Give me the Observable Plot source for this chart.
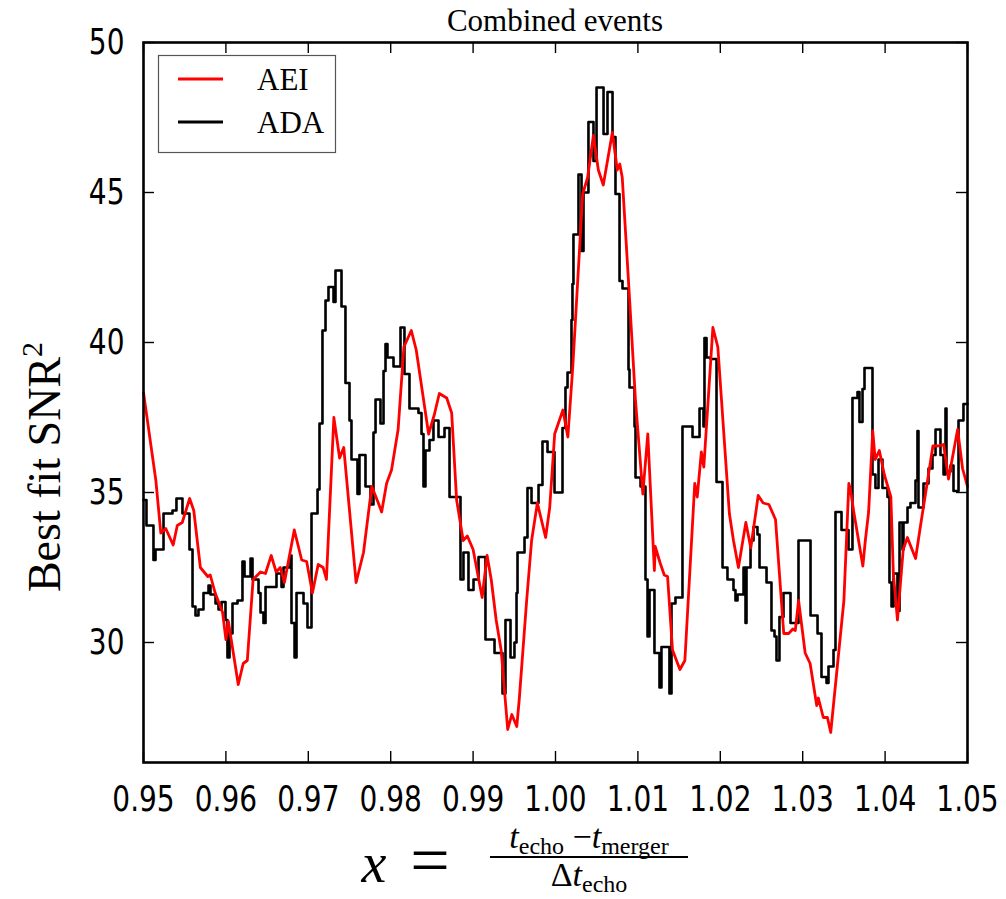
<!DOCTYPE html>
<html><head><meta charset="utf-8">
<script src="https://cdn.jsdelivr.net/npm/d3@7"></script>
<script src="https://cdn.jsdelivr.net/npm/@observablehq/plot@0.6"></script>
<style>body{margin:0;background:#fff} svg{display:block}</style>
</head><body><div id="chart"></div>
<script>
const seriesNames = ["AEI", "ADA"];
const seriesColors = ["#ff0000", "#000000"];
const xTicks = [0.95,0.96,0.97,0.98,0.99,1.00,1.01,1.02,1.03,1.04,1.05];
const yTicks = [30,35,40,45,50];

const aeiX = [0.9500,0.9515,0.9521,0.9527,0.9536,0.9541,0.9547,0.9556,0.9561,0.9569,
0.9578,0.9581,0.9587,0.9596,0.9600,0.9603,0.9609,0.9615,0.9621,0.9626,
0.9633,0.9642,0.9648,0.9655,0.9661,0.9666,0.9671,0.9683,0.9692,0.9698,
0.9705,0.9712,0.9718,0.9722,0.9731,0.9738,0.9743,0.9758,0.9767,0.9777,
0.9785,0.9789,0.9795,0.9801,0.9809,0.9816,0.9825,0.9831,0.9846,0.9853,
0.9859,0.9868,0.9874,0.9880,0.9888,0.9893,0.9900,0.9911,0.9917,0.9922,
0.9928,0.9934,0.9942,0.9947,0.9953,0.9956,0.9965,0.9971,0.9978,0.9988,
0.9993,0.9999,1.0009,1.0015,1.0021,1.0033,1.0039,1.0046,1.0052,1.0058,
1.0069,1.0075,1.0078,1.0081,1.0090,1.0097,1.0106,1.0112,1.0120,1.0121,
1.0127,1.0132,1.0136,1.0142,1.0151,1.0157,1.0169,1.0172,1.0177,1.0180,
1.0191,1.0197,1.0211,1.0216,1.0222,1.0231,1.0237,1.0246,1.0252,1.0259,
1.0267,1.0277,1.0283,1.0288,1.0291,1.0295,1.0303,1.0309,1.0317,1.0319,
1.0325,1.0330,1.0334,1.0350,1.0356,1.0358,1.0362,1.0373,1.0376,1.0380,
1.0385,1.0388,1.0393,1.0399,1.0407,1.0410,1.0415,1.0422,1.0427,1.0437,
1.0443,1.0451,1.0458,1.0464,1.0471,1.0477,1.0488,1.0494,1.0500];
const aeiY = [38.33,35.4,33.65,33.8,33.25,33.9,34.0,34.8,34.4,32.5,
32.2,32.25,31.65,31.0,30.1,30.7,29.65,28.6,29.3,29.4,
32.1,32.35,32.3,32.9,32.35,32.5,32.0,33.75,32.75,32.7,
31.65,32.6,32.5,32.1,37.5,36.15,36.5,32.0,33.0,35.2,
34.65,34.35,35.3,35.75,37.1,39.85,40.4,39.75,36.95,37.6,
38.3,38.15,37.65,34.75,33.4,33.55,33.1,31.5,32.9,32.1,
30.75,29.75,27.1,27.6,27.2,28.1,31.4,33.4,34.65,33.5,
34.5,36.95,37.75,36.85,39.2,44.95,45.5,46.9,45.75,45.25,
47.0,45.75,45.95,45.5,41.4,38.1,34.95,36.95,32.4,33.2,
32.65,32.25,32.2,29.75,29.1,29.4,35.3,34.85,36.35,35.85,
40.5,39.85,34.3,33.4,32.5,34.0,33.15,34.9,34.65,34.6,
34.1,30.3,30.3,30.45,30.4,31.4,29.65,29.3,27.9,28.15,
27.5,27.5,27.0,31.4,35.3,35.1,34.35,32.55,33.4,34.35,
37.05,36.1,36.4,35.6,34.85,32.3,30.75,33.1,33.5,32.8,
33.9,35.3,36.55,36.55,36.6,35.45,37.1,35.8,35.2];

const adaX = [0.95000,0.95036,0.95121,0.95146,0.95243,0.95352,0.95400,0.95473,0.95558,0.95595,
0.95631,0.95667,0.95728,0.95789,0.95813,0.95874,0.95910,0.95947,0.95995,0.96019,
0.96044,0.96080,0.96141,0.96201,0.96226,0.96299,0.96323,0.96396,0.96420,0.96456,
0.96481,0.96614,0.96675,0.96699,0.96784,0.96796,0.96833,0.96857,0.96942,0.96990,
0.97039,0.97112,0.97136,0.97172,0.97209,0.97245,0.97306,0.97330,0.97403,0.97451,
0.97500,0.97524,0.97597,0.97621,0.97694,0.97755,0.97791,0.97816,0.97876,0.97913,
0.97937,0.97961,0.98034,0.98119,0.98167,0.98228,0.98337,0.98374,0.98398,0.98422,
0.98471,0.98519,0.98580,0.98653,0.98714,0.98847,0.98883,0.98944,0.99005,0.99066,
0.99150,0.99260,0.99357,0.99393,0.99454,0.99502,0.99527,0.99539,0.99624,0.99660,
0.99709,0.99794,0.99842,0.99903,0.99988,1.00085,1.00121,1.00146,1.00194,1.00206,
1.00218,1.00279,1.00316,1.00340,1.00400,1.00461,1.00498,1.00583,1.00631,1.00692,
1.00728,1.00777,1.00813,1.00886,1.00898,1.00959,1.00971,1.01032,1.01092,1.01117,
1.01141,1.01201,1.01262,1.01286,1.01383,1.01408,1.01456,1.01541,1.01663,1.01748,
1.01796,1.01808,1.01833,1.01881,1.01954,1.02027,1.02087,1.02160,1.02184,1.02209,
1.02282,1.02306,1.02318,1.02367,1.02403,1.02451,1.02476,1.02561,1.02621,1.02658,
1.02682,1.02718,1.02767,1.02852,1.02949,1.03095,1.03180,1.03228,1.03289,1.03313,
1.03374,1.03398,1.03471,1.03556,1.03604,1.03665,1.03689,1.03726,1.03750,1.03847,
1.03883,1.03920,1.03968,1.04029,1.04053,1.04078,1.04102,1.04150,1.04175,1.04211,
1.04223,1.04272,1.04308,1.04369,1.04393,1.04405,1.04466,1.04527,1.04575,1.04612,
1.04672,1.04709,1.04733,1.04745,1.04794,1.04830,1.04891,1.04951,1.05000];
const adaY = [34.75,33.9,32.75,33.1,34.3,34.4,34.8,34.3,33.1,31.2,
30.9,31.1,31.65,31.9,31.6,31.3,31.1,31.35,30.75,29.5,
30.3,31.3,31.4,32.7,32.2,32.8,32.1,31.65,31.0,30.65,
31.85,32.3,31.85,32.5,32.9,30.65,29.5,31.65,31.3,30.5,
34.3,35.1,37.3,40.4,41.4,41.85,41.35,42.4,41.2,38.65,
37.4,36.1,34.95,36.25,35.2,34.6,37.0,38.1,37.3,39.05,
39.95,39.5,39.2,40.5,38.95,37.8,37.65,36.95,35.2,36.4,
36.75,37.4,36.85,37.15,34.85,32.1,33.0,31.75,32.1,32.85,
30.1,29.65,28.3,30.75,29.5,30.0,31.65,33.0,33.5,35.15,
34.65,35.25,36.7,36.35,35.0,37.15,38.5,39.0,40.75,41.95,
43.6,45.6,43.05,45.0,47.35,46.05,48.5,46.95,48.35,46.85,
44.95,42.05,41.8,39.1,38.5,37.2,35.5,35.2,32.1,30.2,
31.75,29.65,28.5,29.85,28.3,31.3,31.5,37.2,36.85,37.8,
37.2,40.15,39.5,39.45,35.35,32.5,32.1,31.75,31.4,31.6,
32.5,30.65,32.5,33.4,33.85,33.6,32.5,32.0,30.4,30.2,
29.4,30.85,31.65,30.65,33.4,30.9,30.3,28.85,28.65,29.2,
29.75,34.35,33.75,33.1,38.15,38.35,37.35,38.45,39.15,35.6,
35.15,36.1,35.15,34.85,32.0,31.2,32.3,31.05,34.0,33.1,
34.0,34.5,34.65,35.4,37.05,34.5,35.3,35.8,36.25,37.1,
36.25,35.6,37.8,35.7,35.9,35.05,37.4,37.95,37.95];

const aei = aeiX.map((x, i) => ({x, y: aeiY[i]}));
const ada = adaX.map((x, i) => ({x, y: adaY[i]}));

const W = 1006, H = 899, mL = 143, mR = 39, mT = 42, mB = 137;
const innerW = W - mL - mR, innerH = H - mT - mB, tk = 11;

const chart = Plot.plot({
  width: W, height: H,
  marginLeft: mL, marginRight: mR, marginTop: mT, marginBottom: mB,
  x: {domain: [0.95, 1.05]},
  y: {domain: [26, 50]},
  style: {fontFamily: "'DejaVu Sans', sans-serif", fontSize: "28px", color: "#000", background: "#fff"},
  marks: [
    Plot.line(ada, {x: "x", y: "y", curve: "step-after", stroke: seriesColors[1], strokeWidth: 2.6}),
    Plot.line(aei, {x: "x", y: "y", stroke: seriesColors[0], strokeWidth: 2.8}),
    Plot.tickX(xTicks, {x: d => d, stroke: "#000", strokeWidth: 1.4, insetTop: innerH - tk}),
    Plot.tickX(xTicks, {x: d => d, stroke: "#000", strokeWidth: 1.4, insetBottom: innerH - tk}),
    Plot.tickY(yTicks, {y: d => d, stroke: "#000", strokeWidth: 1.4, insetRight: innerW - tk}),
    Plot.tickY(yTicks, {y: d => d, stroke: "#000", strokeWidth: 1.4, insetLeft: innerW - tk}),
    Plot.axisX({anchor: "bottom", ticks: xTicks, tickSize: 0, tickPadding: 24, tickFormat: d3.format(".2f"), label: null}),
    Plot.axisY({anchor: "left", ticks: yTicks, tickSize: 0, tickPadding: 19, label: null}),
    Plot.frame({stroke: "#000", strokeWidth: 2.6})
  ]
});

const svg = d3.select(chart);
// tick labels of the reference are vertically elongated
svg.selectAll('g[aria-label="x-axis tick label"] text, g[aria-label="y-axis tick label"] text')
  .attr("transform", function() { return (this.getAttribute("transform") || "") + " scale(1,1.25)"; });

const serif = "'Liberation Serif', 'DejaVu Serif', serif";

// title
svg.append("text").attr("x", mL + innerW / 2).attr("y", 31)
  .attr("text-anchor", "middle").attr("font-family", serif).attr("font-size", 31)
  .attr("fill", "#000").text("Combined events");

// y label
const yl = svg.append("text").attr("transform", "translate(60,467) rotate(-90)")
  .attr("text-anchor", "middle").attr("font-family", serif).attr("font-size", 46).attr("fill", "#000");
yl.append("tspan").text("Best fit SNR");
yl.append("tspan").attr("font-size", 30).attr("dy", -18).text("2");

// x label
const xl = svg.append("g").attr("font-family", serif).attr("fill", "#000");
xl.append("text").attr("x", 374).attr("y", 882).attr("text-anchor", "middle")
  .attr("font-size", 56).attr("font-style", "italic").text("x");
xl.append("text").attr("x", 430).attr("y", 884).attr("text-anchor", "middle")
  .attr("font-size", 70).text("=");
const num = xl.append("text").attr("x", 589).attr("y", 848).attr("text-anchor", "middle").attr("font-size", 34);
num.append("tspan").attr("font-style", "italic").text("t");
num.append("tspan").attr("font-size", 24).attr("dy", 6).text("echo");
num.append("tspan").attr("dy", -6).text(" \u2212");
num.append("tspan").attr("font-style", "italic").text("t");
num.append("tspan").attr("font-size", 24).attr("dy", 6).text("merger");
xl.append("line").attr("x1", 490).attr("x2", 688).attr("y1", 857).attr("y2", 857)
  .attr("stroke", "#000").attr("stroke-width", 2);
const den = xl.append("text").attr("x", 589).attr("y", 886).attr("text-anchor", "middle").attr("font-size", 34);
den.append("tspan").text("\u0394");
den.append("tspan").attr("font-style", "italic").text("t");
den.append("tspan").attr("font-size", 24).attr("dy", 6).text("echo");

// legend
const lg = svg.append("g");
lg.append("rect").attr("x", 158.5).attr("y", 55.5).attr("width", 177).attr("height", 97)
  .attr("fill", "#fff").attr("stroke", "#555").attr("stroke-width", 1.2);
const legY = [79, 122];
seriesNames.forEach((name, i) => {
  lg.append("line").attr("x1", 178).attr("x2", 223).attr("y1", legY[i]).attr("y2", legY[i])
    .attr("stroke", seriesColors[i]).attr("stroke-width", 2.8);
  lg.append("text").attr("x", 257).attr("y", legY[i] + 11).attr("text-anchor", "start")
    .attr("font-family", serif).attr("font-size", 31).attr("fill", "#000").text(name);
});

document.getElementById("chart").appendChild(chart);
</script>
</body></html>
